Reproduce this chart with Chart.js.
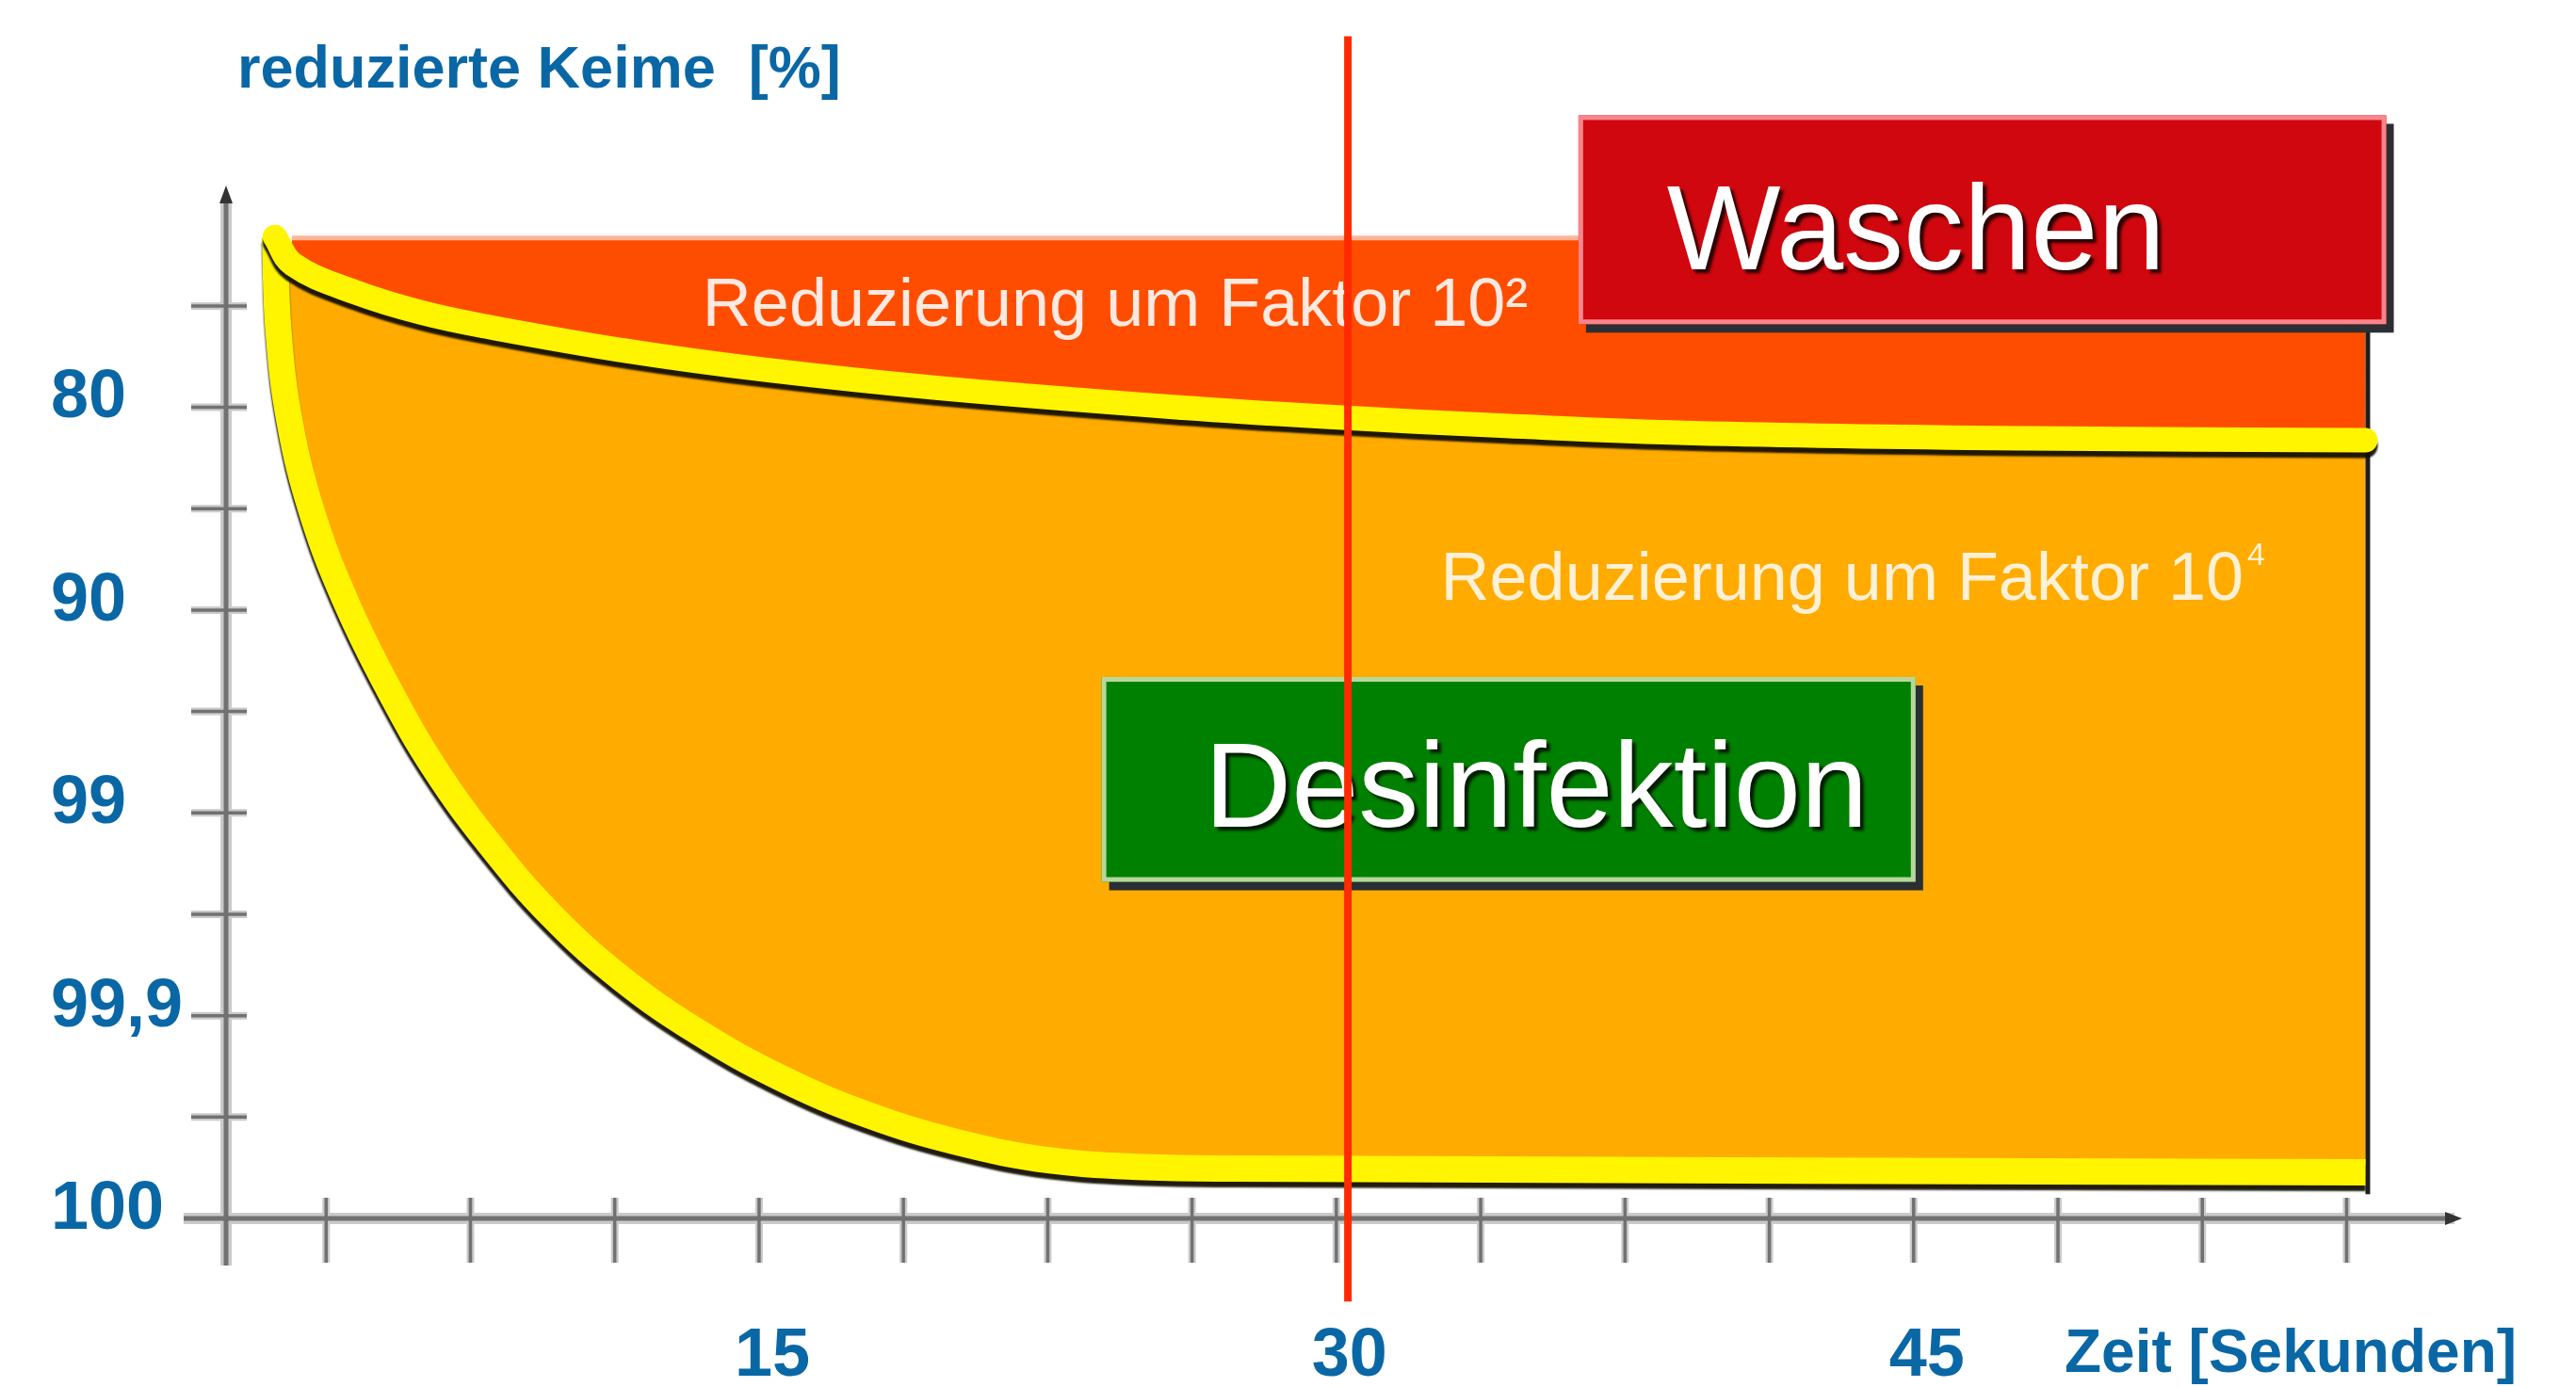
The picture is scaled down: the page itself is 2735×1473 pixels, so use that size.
<!DOCTYPE html>
<html>
<head>
<meta charset="utf-8">
<script src="https://cdn.jsdelivr.net/npm/chart.js@4.4.0/dist/chart.umd.min.js"></script>
<style>
  html, body { margin: 0; padding: 0; background: #fff; }
  canvas { display: block; }
</style>
</head>
<body>
<canvas id="myChart" width="2735" height="1473"></canvas>
<script>
// x = Zeit in Sekunden, y = Stufe (0 = 100 %, 1 = 99,9 %, 2 = 99 %, 3 = 90 %, 4 = 80 %)
const xTicks = [3.75, 7.5, 11.25, 15, 18.75, 22.5, 26.25, 30, 33.75, 37.5, 41.25, 45, 48.75, 52.5, 56.25];
const xLabels = [15, 30, 45];
const yTicks = [0.5, 1, 1.5, 2, 2.5, 3, 3.5, 4, 4.5];
const yLabelValues = [0, 1, 2, 3, 4];
const yLabels = ['100', '99,9', '99', '90', '80'];

// Waschen (obere Kurve)
const waschenX = [2.42, 2.89, 4.50, 6.27, 8.04, 11.63, 15.25, 19.73, 26.02, 29.70, 34.40, 39.29, 47.88, 56.74];
const waschenY = [4.84, 4.705, 4.568, 4.465, 4.394, 4.276, 4.183, 4.094, 3.998, 3.954, 3.909, 3.873, 3.847, 3.838];

// Desinfektion (untere Kurve)
const desinfX = [2.42, 2.51, 2.81, 3.40, 4.27, 5.35, 6.57, 8.01, 9.61, 11.43, 13.44, 15.58, 17.83, 20.17, 22.57, 25.01, 27.45, 56.74];
const desinfY = [4.84, 4.381, 3.921, 3.471, 3.038, 2.620, 2.219, 1.843, 1.493, 1.182, 0.916, 0.691, 0.510, 0.375, 0.286, 0.253, 0.246, 0.227];

// Ausgangsniveau (Oberkante der roten Flaeche)
const startX = [2.86, 56.74];
const startY = [4.835, 4.835];

// rechte Kante
const edgeX = [56.8, 56.8];
const edgeY = [4.6, 0.12];

// Markierung bei 30 s
const markX = [30.3, 30.3];
const markY = [5.83, -0.41];

const font = "'Liberation Sans', Arial, sans-serif";
const blue = '#0a67a5';

function pts(xs, ys) {
  return xs.map((x, i) => ({x: x, y: ys[i]}));
}

// Kaesten und Beschriftungen im Diagramm (in Achsenwerten)
const boxes = [
  {x0: 36.29, x1: 57.28, y0: 5.44, y1: 4.41, fill: '#d0070e', edge: '#f7868c', text: 'Waschen', tx: 38.59, ty: 4.68},
  {x0: 23.9, x1: 45.05, y0: 2.67, y1: 1.66, fill: '#008000', edge: '#b6d89c', text: 'Desinfektion', tx: 26.57, ty: 1.93}
];

const axesPlugin = {
  id: 'achsen',
  beforeDatasetsDraw(chart) {
    const {ctx, chartArea: a, scales} = chart;
    const line = (x1, y1, x2, y2, w, c) => {
      ctx.beginPath();
      ctx.moveTo(x1, y1);
      ctx.lineTo(x2, y2);
      ctx.lineWidth = w;
      ctx.strokeStyle = c;
      ctx.stroke();
    };
    ctx.save();
    [[12, '#cacaca', 8], [5, '#717171', 3.5]].forEach(([w, c, tw]) => {
      line(a.left, a.top + 12, a.left, a.bottom + 50, w, c);
      line(a.left - 45, a.bottom, a.right - 6, a.bottom, w, c);
      yTicks.forEach(v => {
        const py = scales.y.getPixelForValue(v);
        line(a.left - 37, py, a.left + 22, py, tw, c);
      });
      xTicks.forEach(v => {
        const px = scales.x.getPixelForValue(v);
        line(px, a.bottom - 22, px, a.bottom + 47, tw, c);
      });
    });
    // Pfeilspitzen
    ctx.fillStyle = '#333';
    ctx.beginPath();
    ctx.moveTo(a.left, a.top - 3);
    ctx.lineTo(a.left + 7, a.top + 16);
    ctx.lineTo(a.left - 7, a.top + 16);
    ctx.closePath();
    ctx.fill();
    ctx.beginPath();
    ctx.moveTo(a.right + 2, a.bottom);
    ctx.lineTo(a.right - 16, a.bottom - 7);
    ctx.lineTo(a.right - 16, a.bottom + 7);
    ctx.closePath();
    ctx.fill();
    ctx.restore();
  }
};

const shadowPlugin = {
  id: 'schatten',
  beforeDatasetDraw(chart, args) {
    const ctx = chart.ctx;
    if (args.index === 1 || args.index === 2) {
      ctx.save();
      ctx.shadowColor = 'rgba(20,15,0,0.95)';
      ctx.shadowOffsetY = 6;
      ctx.shadowBlur = 2;
    }
    if (args.index === 0) {
      drawNotes(chart);
    }
  },
  afterDatasetDraw(chart, args) {
    if (args.index === 1 || args.index === 2) chart.ctx.restore();
  },
  afterDraw(chart) {
    const ctx = chart.ctx;
    ctx.save();
    ctx.fillStyle = blue;
    ctx.textBaseline = 'alphabetic';
    ctx.font = 'bold 63px ' + font;
    ctx.fillText('reduzierte Keime  [%]', 252, 93);
    ctx.font = 'bold 64px ' + font;
    ctx.fillText('Zeit [Sekunden]', 2192, 1457);
    ctx.restore();
  }
};

function drawNotes(chart) {
  const {ctx, scales: {x, y}} = chart;
  ctx.save();
  ctx.textBaseline = 'alphabetic';
  // Reduzierung 10^2
  ctx.font = '72px ' + font;
  ctx.fillStyle = '#ffe9e0';
  ctx.fillText('Reduzierung um Faktor 10²', x.getPixelForValue(13.53), y.getPixelForValue(4.40));
  // Reduzierung 10^4
  const rx = x.getPixelForValue(32.71), ry = y.getPixelForValue(3.05);
  ctx.fillStyle = '#fff1d6';
  ctx.fillText('Reduzierung um Faktor 10', rx, ry);
  const w = ctx.measureText('Reduzierung um Faktor 10').width;
  ctx.font = '34px ' + font;
  ctx.fillText('4', rx + w + 4, ry - 37);

  boxes.forEach(b => {
    const l = x.getPixelForValue(b.x0), r = x.getPixelForValue(b.x1);
    const t = y.getPixelForValue(b.y0), bt = y.getPixelForValue(b.y1);
    ctx.fillStyle = '#2b2f33';
    ctx.fillRect(l + 8, t + 9, r - l, bt - t);
    ctx.fillStyle = b.fill;
    ctx.fillRect(l, t, r - l, bt - t);
    ctx.strokeStyle = b.edge;
    ctx.lineWidth = 5;
    ctx.strokeRect(l + 2.5, t + 2.5, r - l - 5, bt - t - 5);
    ctx.save();
    ctx.font = '128px ' + font;
    ctx.shadowColor = 'rgba(0,0,0,0.8)';
    ctx.shadowOffsetX = 4;
    ctx.shadowOffsetY = 4;
    ctx.shadowBlur = 3;
    ctx.fillStyle = '#ffffff';
    ctx.fillText(b.text, x.getPixelForValue(b.tx), y.getPixelForValue(b.ty));
    ctx.restore();
  });
  ctx.restore();
}

const data = {
  datasets: [
    { // 0 Markierung 30 s
      data: pts(markX, markY),
      borderColor: '#ff2a00',
      borderWidth: 8,
      pointRadius: 0,
      clip: false,
      fill: false
    },
    { // 1 Waschen, gelb
      data: pts(waschenX, waschenY),
      borderColor: '#fff500',
      borderWidth: 26,
      borderCapStyle: 'round',
      borderJoinStyle: 'round',
      tension: 0.4,
      pointRadius: 0,
      fill: false
    },
    { // 2 Desinfektion, gelb
      data: pts(desinfX, desinfY),
      borderColor: '#fff500',
      borderWidth: 28,
      borderCapStyle: 'butt',
      borderJoinStyle: 'round',
      tension: 0.4,
      pointRadius: 0,
      fill: false
    },
    { // 3 rechte Kante
      data: pts(edgeX, edgeY),
      borderColor: '#1e1e1e',
      borderWidth: 5,
      pointRadius: 0,
      fill: false
    },
    { // 4 Flaeche Desinfektion
      data: pts(waschenX, waschenY),
      borderWidth: 0,
      borderColor: 'rgba(0,0,0,0)',
      tension: 0.4,
      pointRadius: 0,
      backgroundColor: '#ffab00',
      fill: 5
    },
    { // 5 Grenze unten
      data: pts(desinfX, desinfY),
      borderWidth: 0,
      borderColor: 'rgba(0,0,0,0)',
      tension: 0.4,
      pointRadius: 0,
      fill: false
    },
    { // 6 Flaeche Waschen
      data: pts(startX, startY),
      borderColor: '#ffb49a',
      borderWidth: 5,
      pointRadius: 0,
      backgroundColor: '#ff4d00',
      fill: 4
    }
  ]
};

const config = {
  type: 'line',
  data,
  options: {
    responsive: false,
    animation: false,
    events: [],
    layout: { padding: { left: 54, right: 123, top: 200, bottom: 0 } },
    plugins: {
      legend: { display: false },
      tooltip: { enabled: false }
    },
    scales: {
      x: {
        type: 'linear',
        min: 1.15,
        max: 59.2,
        grid: { display: false, drawTicks: false },
        border: { display: false },
        afterBuildTicks: s => { s.ticks = xLabels.map(v => ({value: v})); },
        afterFit: s => { s.height = 179; },
        ticks: {
          autoSkip: false,
          maxRotation: 0,
          minRotation: 0,
          padding: 104,
          labelOffset: 14,
          color: blue,
          font: { family: font, size: 72, weight: 'bold' },
          callback: v => String(v)
        }
      },
      y: {
        type: 'linear',
        min: 0,
        max: 5.08,
        grid: { display: false, drawTicks: false },
        border: { display: false },
        afterBuildTicks: s => { s.ticks = yLabelValues.map(v => ({value: v})); },
        afterFit: s => { s.width = 186; },
        ticks: {
          autoSkip: false,
          crossAlign: 'far',
          labelOffset: -9,
          color: blue,
          font: { family: font, size: 72, weight: 'bold' },
          callback: v => yLabels[yLabelValues.indexOf(v)]
        }
      }
    }
  },
  plugins: [axesPlugin, shadowPlugin]
};

const myChart = new Chart(document.getElementById('myChart'), config);
</script>
</body>
</html>
